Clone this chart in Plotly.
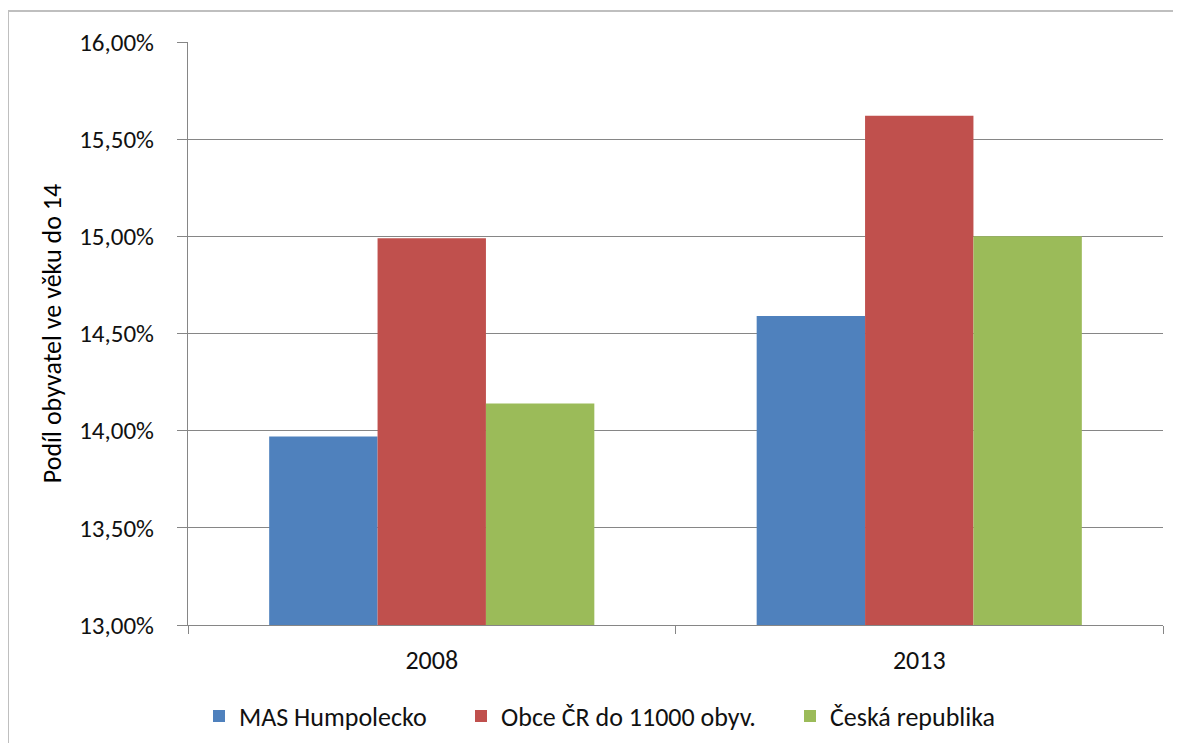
import plotly.graph_objects as go

years = ["2008", "2013"]
series_names = ["MAS Humpolecko", "Obce ČR do 11000 obyv.", "Česká republika"]
mas_humpolecko = [13.97, 14.59]
obce_cr = [14.99, 15.62]
ceska_republika = [14.14, 15.00]
y_ticks = [13.0, 13.5, 14.0, 14.5, 15.0, 15.5, 16.0]
y_tick_text = [f"{v:.2f}".replace(".", ",") + "%" for v in y_ticks]
colors = ["#4F81BD", "#C0504D", "#9BBB59"]

FONT = "Carlito, Lato, 'Liberation Sans', sans-serif"
TXT = "#111111"
OFF = 8  # page body margin
W, H = 1181 - 2 * OFF, 751 - 2 * OFF
# plot area in screenshot coords: x 188..1163, y 42..625
PX0, PX1, PY0, PY1 = 188, 1163, 42, 625
L, T = PX0 - OFF, PY0 - OFF
R = W - (PX1 - OFF)
B = H - (PY1 - OFF)
pw, ph = PX1 - PX0, PY1 - PY0


def px_x(p):
    return (p - PX0) / pw


def px_y(p):
    return (PY1 - p) / ph


fig = go.Figure()
legend_ids = ["legend", "legend2", "legend3"]
for name, vals, c, lg in zip(series_names, [mas_humpolecko, obce_cr, ceska_republika], colors, legend_ids):
    fig.add_trace(go.Bar(x=years, y=vals, name=name, legend=lg,
                         marker=dict(color=c, line=dict(width=0))))

legend_x = [199, 461, 790]
legends = {}
for lg, lx in zip(legend_ids, legend_x):
    legends[lg] = dict(orientation="h", x=px_x(lx), xanchor="left", y=px_y(716), yanchor="middle",
                       font=dict(family=FONT, size=26, color=TXT), bgcolor="rgba(0,0,0,0)",
                       itemwidth=30, borderwidth=0)

border = dict(color="#BFBFBF", width=2)
fig.update_layout(
    width=W, height=H,
    margin=dict(l=L, r=R, t=T, b=B, autoexpand=False),
    paper_bgcolor="white", plot_bgcolor="white",
    barmode="group", bargap=0.333, bargroupgap=0,
    font=dict(family=FONT, size=26, color=TXT),
    showlegend=True,
    **legends,
    xaxis=dict(type="category", showgrid=False, showline=True, linecolor="#868686", linewidth=1,
               ticks="outside", tickson="boundaries", ticklen=8, tickcolor="#868686",
               ticklabelstandoff=12,
               tickfont=dict(family=FONT, size=26, color=TXT), fixedrange=True),
    yaxis=dict(range=[13, 16], tickvals=y_ticks, ticktext=y_tick_text,
               showgrid=True, gridcolor="#868686", gridwidth=1,
               showline=True, linecolor="#868686", linewidth=1,
               ticks="outside", ticklen=10, tickcolor="#868686",
               ticklabelstandoff=18,
               tickfont=dict(family=FONT, size=25, color=TXT), zeroline=False,
               title=dict(text="Podíl obyvatel ve věku do 14",
                          font=dict(family=FONT, size=26, color="#000000"), standoff=10)),
    shapes=[
        dict(type="line", xref="paper", yref="paper", x0=px_x(8), x1=px_x(1200),
             y0=px_y(11), y1=px_y(11), line=border, layer="below"),
        dict(type="line", xref="paper", yref="paper", x0=px_x(8), x1=px_x(8),
             y0=px_y(11), y1=px_y(780), line=border, layer="below"),
    ],
)

fig.write_html("out.html")
